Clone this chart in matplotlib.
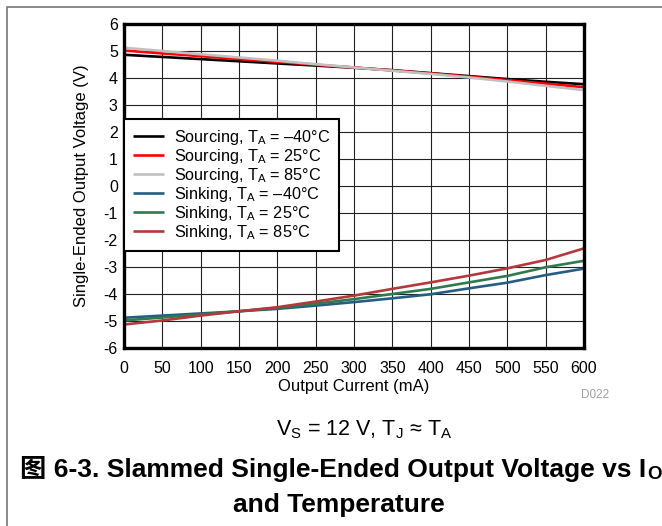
import matplotlib
matplotlib.use("Agg")
import matplotlib.pyplot as plt
from matplotlib.lines import Line2D

plt.rcParams['font.family'] = ['Liberation Sans', 'Noto Sans CJK SC', 'DejaVu Sans']
plt.rcParams['mathtext.fontset'] = 'custom'
plt.rcParams['mathtext.rm'] = 'Liberation Sans'
plt.rcParams['axes.unicode_minus'] = False

# output current (mA)
current = [0, 50, 100, 150, 200, 250, 300, 350, 400, 450, 500, 550, 600]

# sourcing curves (V)
src_m40 = [4.86, 4.78, 4.70, 4.62, 4.54, 4.46, 4.38, 4.29, 4.18, 4.07, 3.96, 3.86, 3.77]
src_25 = [5.02, 4.91, 4.81, 4.70, 4.60, 4.49, 4.39, 4.28, 4.17, 4.05, 3.92, 3.79, 3.66]
src_85 = [5.12, 5.00, 4.88, 4.76, 4.64, 4.51, 4.39, 4.27, 4.15, 4.02, 3.87, 3.71, 3.55]

# sinking curves (V)
snk_m40 = [-4.88, -4.80, -4.72, -4.64, -4.55, -4.43, -4.30, -4.16, -4.01, -3.79, -3.58, -3.30, -3.06]
snk_25 = [-4.98, -4.87, -4.76, -4.64, -4.51, -4.36, -4.19, -4.00, -3.81, -3.57, -3.33, -3.01, -2.77]
snk_85 = [-5.13, -4.98, -4.80, -4.64, -4.49, -4.28, -4.06, -3.81, -3.57, -3.32, -3.05, -2.74, -2.31]

series = [
    (src_m40, "#000000", "Sourcing, T$_\\mathregular{A}$ = \u201340\u00b0C"),
    (src_25, "#ff0000", "Sourcing, T$_\\mathregular{A}$ = 25\u00b0C"),
    (src_85, "#c0c0c0", "Sourcing, T$_\\mathregular{A}$ = 85\u00b0C"),
    (snk_m40, "#255d83", "Sinking, T$_\\mathregular{A}$ = \u201340\u00b0C"),
    (snk_25, "#2f7a4f", "Sinking, T$_\\mathregular{A}$ = 25\u00b0C"),
    (snk_85, "#b3393c", "Sinking, T$_\\mathregular{A}$ = 85\u00b0C"),
]

x_ticks = list(range(0, 601, 50))
y_ticks = list(range(-6, 7))

fig = plt.figure(figsize=(6.62, 5.26), dpi=100)
ax = fig.add_axes([124 / 662, 1 - 348 / 526, 460 / 662, 324 / 526])

for vals, col, lab in series:
    ax.plot(current, vals, color=col, lw=1.9, label=lab, solid_capstyle='butt')

ax.set_xlim(0, 600)
ax.set_ylim(-6, 6)
ax.set_xticks(x_ticks)
ax.set_yticks(y_ticks)
ax.grid(True, color="#222222", lw=0.8)
ax.set_axisbelow(True)
ax.tick_params(axis='both', length=0, labelsize=11.5)
ax.tick_params(axis='x', pad=9.5)
ax.tick_params(axis='y', pad=4.5)
for s in ax.spines.values():
    s.set_linewidth(2.4)
    s.set_color("black")

ax.set_xlabel("Output Current (mA)", fontsize=12)
ax.set_ylabel("Single-Ended Output Voltage (V)", fontsize=12)
ax.xaxis.set_label_coords(0.5, -0.096)
ax.yaxis.set_label_coords(-0.076, 0.5)

leg = ax.legend(loc='upper left', bbox_to_anchor=(0, 0.707), borderaxespad=0,
                fontsize=11.7, frameon=True, fancybox=False, labelspacing=0.0,
                handlelength=1.9, handletextpad=0.6, borderpad=0.55)
leg.get_frame().set_edgecolor("black")
leg.get_frame().set_linewidth(1.5)
leg.get_frame().set_alpha(1)

fig.text(609 / 662, 1 - 395 / 526, "D022", fontsize=8.5, color="#a0a0a0",
         ha='right', va='center')

fig.text(364 / 662, 1 - 435 / 526,
         "V$_\\mathregular{S}$ = 12 V, T$_\\mathregular{J}$ \u2248 T$_\\mathregular{A}$",
         fontsize=15.5, ha='center', va='baseline')

t1 = fig.text(20 / 662, 1 - 477 / 526,
              "\u56fe 6-3. Slammed Single-Ended Output Voltage vs I",
              fontsize=19, fontweight='bold', ha='left', va='baseline')
fig.text(339 / 662, 1 - 512 / 526, "and Temperature",
         fontsize=19, fontweight='bold', ha='center', va='baseline')
ax.annotate("O", xy=(1, 0), xycoords=t1, xytext=(0.5, -1), textcoords='offset points',
            fontsize=13.5, fontweight='bold', ha='left', va='bottom', annotation_clip=False)

# page frame (top and left edges only visible)
fig.add_artist(Line2D([7 / 662, 7 / 662, 1.0], [0.0, 1 - 7 / 526, 1 - 7 / 526],
                      transform=fig.transFigure, color="#808080", lw=1.3))

fig.savefig("out.png", dpi=100)
